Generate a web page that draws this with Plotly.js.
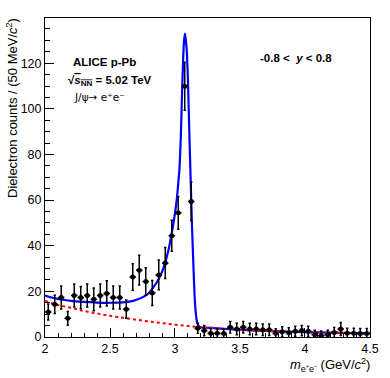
<!DOCTYPE html>
<html>
<head>
<meta charset="utf-8">
<script src="https://cdn.plot.ly/plotly-3.0.1.min.js"></script>
<style>
  body { margin: 0; padding: 0; background: #fff; }
  #myDiv { width: 390px; height: 378px; }
</style>
</head>
<body>
<div id="myDiv"></div>
<script>
// data points, 50 MeV/c2 bins
var mass = [2.025,2.075,2.125,2.175,2.225,2.275,2.325,2.375,2.425,2.475,
            2.525,2.575,2.625,2.675,2.725,2.775,2.825,2.875,2.925,2.975,
            3.025,3.075,3.125,3.175,3.225,3.275,3.325,3.375,3.425,3.475,
            3.525,3.575,3.625,3.675,3.725,3.775,3.825,3.875,3.925,3.975,
            4.025,4.075,4.125,4.175,4.225,4.275,4.325,4.375,4.425,4.475];
var counts = [11.0,14.3,17.3,8.2,18.2,17.3,18.2,16.5,18.2,19.1,
              17.3,17.3,12.2,26.3,29.3,24.3,19.3,27.2,32.4,44.4,
              54.4,109.9,59.4,3.8,2.8,1.6,1.6,1.5,4.3,3.5,
              4.3,3.5,3.5,3.2,3.2,1.6,2.3,1.9,2.5,2.8,
              2.5,1.0,0.6,1.0,2.0,3.5,1.6,1.6,1.5,1.5];
var countErr = [3.5,4.0,5.0,3.0,5.0,4.8,5.0,5.0,5.0,5.5,
                5.0,5.0,4.0,5.8,6.5,6.0,5.5,6.5,6.8,6.8,
                7.2,10.5,8.5,2.2,2.2,2.0,2.0,2.0,2.5,2.5,
                2.5,2.5,2.5,2.5,2.5,2.0,2.2,2.2,2.2,2.2,
                2.2,2.0,2.0,2.0,2.2,2.8,2.2,2.2,2.2,2.2];

// total fit (signal + background)
var fitMass = [2.00,2.05,2.10,2.15,2.20,2.30,2.40,2.50,2.60,2.65,2.70,2.76,2.80,2.83,2.86,
               2.885,2.91,2.936,2.955,2.975,2.99,3.00,3.015,3.026,3.035,3.045,3.055,3.063,3.07,3.077,
               3.084,3.092,3.10,3.11,3.12,3.13,3.14,3.15,3.16,3.17,3.18,3.20,
               3.30,3.40,3.50,3.60,3.70,3.80,3.90,4.00,4.10,4.20,4.30,4.40,4.50];
var fitTotal = [18.2,17.3,16.7,16.2,15.8,15.4,15.1,15.0,15.2,15.5,16.2,17.7,19.3,21.5,24.0,
                26.6,30.0,35.0,39.5,45.5,50.5,54.3,61,68,74,88,108,122,130,133,
                130,124,112,90,70,50,34,19,10.5,6.5,5.0,4.3,
                3.9,3.5,3.2,2.9,2.7,2.5,2.3,2.1,2.0,1.9,1.8,1.7,1.6];

// background
var bgMass = [2.0,2.1,2.2,2.3,2.4,2.5,2.6,2.7,2.8,2.9,3.0,3.1,3.2,
              3.3,3.4,3.5,3.6,3.7,3.8,3.9,4.0,4.1,4.2,4.3,4.4,4.5];
var bgCounts = [15.8,14.0,12.8,11.4,10.3,9.3,8.4,7.6,6.8,6.1,5.4,4.8,4.3,
                3.9,3.5,3.2,2.9,2.7,2.5,2.3,2.1,2.0,1.9,1.8,1.7,1.6];

var fnt = 'Liberation Sans, Arial, Helvetica, sans-serif';

var total = {
  x: fitMass, y: fitTotal,
  mode: 'lines',
  line: {color: 'rgb(0,0,255)', width: 2.2, shape: 'spline', smoothing: 0.5},
  hoverinfo: 'skip'
};

var bkg = {
  x: bgMass, y: bgCounts,
  mode: 'lines',
  line: {color: 'rgb(255,0,0)', width: 2, dash: 'dot', shape: 'spline'},
  hoverinfo: 'skip'
};

var pts = {
  x: mass, y: counts,
  mode: 'markers',
  marker: {color: 'black', size: 5},
  error_y: {type: 'data', array: countErr, color: 'black', thickness: 1.5, width: 1.2},
  error_x: {type: 'constant', value: 0.025, color: 'black', thickness: 1.5, width: 0}
};

var layout = {
  width: 390, height: 378,
  margin: {l: 45, r: 20, t: 18, b: 41},
  showlegend: false,
  paper_bgcolor: 'white', plot_bgcolor: 'white',
  font: {family: fnt, color: 'black', size: 12.5},
  xaxis: {
    range: [2, 4.5001], dtick: 0.5, tick0: 2,
    showgrid: false, zeroline: false,
    showline: true, mirror: true, linecolor: 'black', linewidth: 1,
    ticks: 'inside', ticklen: 9, tickcolor: 'black',
    minor: {dtick: 0.1, ticks: 'inside', ticklen: 4.5, tickcolor: 'black', showgrid: false},
    tickfont: {family: fnt, size: 12.5}
  },
  yaxis: {
    range: [0, 139.8], dtick: 20,
    showgrid: false, zeroline: false,
    showline: true, mirror: true, linecolor: 'black', linewidth: 1,
    ticks: 'inside', ticklen: 9, tickcolor: 'black',
    minor: {dtick: 5, ticks: 'inside', ticklen: 4.5, tickcolor: 'black', showgrid: false},
    tickfont: {family: fnt, size: 12.5}
  },
  annotations: [
    {xref: 'paper', yref: 'paper', x: 1, y: 0, xanchor: 'right', yanchor: 'middle', yshift: -28, xshift: 2,
     showarrow: false, font: {size: 13},
     text: '<i>m</i><sub>e⁺e⁻</sub> (GeV/<i>c</i><sup>2</sup>)'},
    {xref: 'paper', yref: 'paper', x: 0, y: 1, xshift: -33, xanchor: 'center', yanchor: 'top', yshift: 2,
     textangle: -90, showarrow: false, font: {size: 13},
     text: 'Dielectron counts / (50 MeV/<i>c</i><sup>2</sup>)'},
    {x: 2.198, y: 120.4, xanchor: 'left', yanchor: 'middle', showarrow: false,
     font: {size: 11.5}, text: '<b>ALICE p-Pb</b>'},
    {x: 2.165, y: 112, xanchor: 'left', yanchor: 'middle', showarrow: false,
     font: {size: 11.5}, text: '<b>√<span style="text-decoration:overline"><i>s</i><sub>NN</sub></span> = 5.02 TeV</b>'},
    {x: 2.205, y: 105, xanchor: 'left', yanchor: 'middle', showarrow: false,
     font: {size: 10.5, family: 'DejaVu Sans, ' + fnt}, text: 'J/ψ→ e⁺e⁻'},
    {x: 3.638, y: 122.4, xanchor: 'left', yanchor: 'middle', showarrow: false,
     font: {size: 11.5}, text: '<b>-0.8 <  <i>y</i> < 0.8</b>'}
  ]
};

Plotly.newPlot('myDiv', [total, bkg, pts], layout, {staticPlot: true});
</script>
</body>
</html>
